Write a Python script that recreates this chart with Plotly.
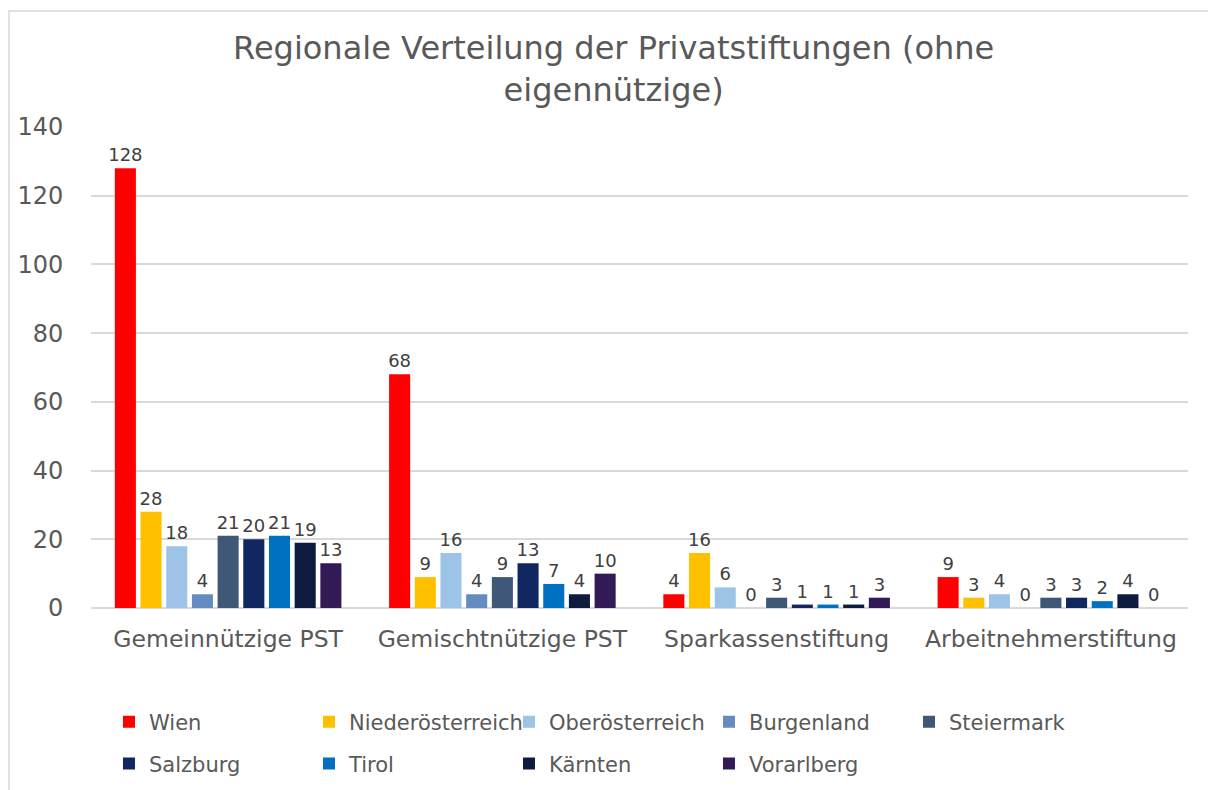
import plotly.graph_objects as go

categories = ["Gemeinnützige PST", "Gemischtnützige PST", "Sparkassenstiftung", "Arbeitnehmerstiftung"]

wien = [128, 68, 4, 9]
niederoesterreich = [28, 9, 16, 3]
oberoesterreich = [18, 16, 6, 4]
burgenland = [4, 4, 0, 0]
steiermark = [21, 9, 3, 3]
salzburg = [20, 13, 1, 3]
tirol = [21, 7, 1, 2]
kaernten = [19, 4, 1, 4]
vorarlberg = [13, 10, 3, 0]

series = [
    ("Wien", wien, "#FF0000", "legend"),
    ("Niederösterreich", niederoesterreich, "#FFC000", "legend"),
    ("Oberösterreich", oberoesterreich, "#9DC3E6", "legend"),
    ("Burgenland", burgenland, "#658CC0", "legend"),
    ("Steiermark", steiermark, "#3F5878", "legend"),
    ("Salzburg", salzburg, "#10285F", "legend2"),
    ("Tirol", tirol, "#0070C0", "legend2"),
    ("Kärnten", kaernten, "#0D1B3E", "legend2"),
    ("Vorarlberg", vorarlberg, "#311A55", "legend2"),
]

FONT = "Verdana, DejaVu Sans, sans-serif"

fig = go.Figure()
for name, vals, color, lg in series:
    fig.add_trace(go.Bar(
        name=name, x=categories, y=vals,
        marker=dict(color=color, line=dict(width=0)),
        text=[str(v) for v in vals], textposition="outside",
        constraintext="none",
        textfont=dict(family=FONT, size=18, color="#404040"),
        cliponaxis=False, legend=lg,
    ))

fig.update_layout(
    width=1208, height=790,
    paper_bgcolor="white", plot_bgcolor="white",
    margin=dict(l=91, r=20, t=127, b=182, autoexpand=False),
    barmode="group", bargap=0.157, bargroupgap=0.18,
    font=dict(family=FONT, color="#595959"),
    title=dict(
        text="Regionale Verteilung der Privatstiftungen (ohne<br>eigennützige)",
        x=0.508, xanchor="center", xref="container",
        y=0.925, yanchor="top", yref="container",
        font=dict(family=FONT, size=32, color="#595959"),
    ),
    xaxis=dict(
        showgrid=False, showline=False, zeroline=False,
        tickfont=dict(family=FONT, size=23.5, color="#595959"),
        ticks="outside", ticklen=10, tickcolor="rgba(0,0,0,0)",
    ),
    yaxis=dict(
        range=[0, 140], dtick=20, showgrid=True, gridcolor="#D9D9D9", gridwidth=1.5,
        zeroline=True, zerolinecolor="#D9D9D9", zerolinewidth=1.5,
        showline=False,
        tickfont=dict(family=FONT, size=24, color="#595959"),
        ticks="outside", ticklen=22, tickcolor="rgba(0,0,0,0)",
    ),
    legend=dict(
        orientation="h", x=0.0164, xanchor="left", y=-0.237, yanchor="middle",
        entrywidth=155, entrywidthmode="pixels",
        font=dict(family=FONT, size=21, color="#595959"),
        bgcolor="rgba(0,0,0,0)", traceorder="normal",
    ),
    legend2=dict(
        orientation="h", x=0.0164, xanchor="left", y=-0.324, yanchor="middle",
        entrywidth=155, entrywidthmode="pixels",
        font=dict(family=FONT, size=21, color="#595959"),
        bgcolor="rgba(0,0,0,0)", traceorder="normal",
    ),
    shapes=[dict(
        type="rect", xref="paper", yref="paper",
        x0=-0.0748, x1=1.2, y0=-0.6, y1=1.241,
        line=dict(color="#D9D9D9", width=1.5), fillcolor="rgba(0,0,0,0)", layer="below",
    )],
    hovermode=False,
)

fig.write_html("out.html", config={"displayModeBar": False},
               post_script="document.body.style.margin='0';")
